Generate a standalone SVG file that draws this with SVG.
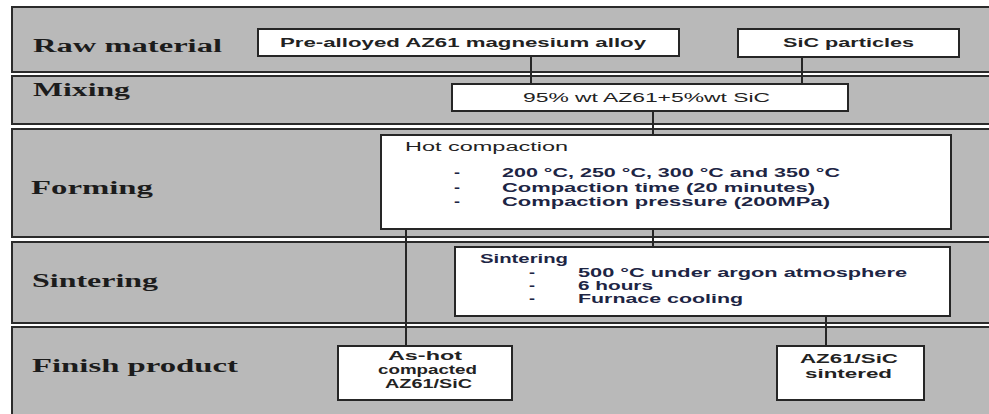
<svg xmlns="http://www.w3.org/2000/svg" width="989" height="414" viewBox="0 0 989 414">
<style>
.band{fill:#b9b9b9;stroke:#2b2b2b;stroke-width:2}
.box{fill:#ffffff;stroke:#262626;stroke-width:2}
.lbl{font-family:"Liberation Serif","Times New Roman",serif;font-weight:bold;font-size:18px;fill:#1c1c1c}
.t{font-family:"Liberation Sans",Arial,sans-serif;font-size:13px;fill:#222;font-weight:bold}
.tn{font-family:"Liberation Sans",Arial,sans-serif;font-size:12px;fill:#222}
.li{font-family:"Liberation Sans",Arial,sans-serif;font-size:12px;fill:#1d2544;font-weight:bold}
.c{stroke:#262626;stroke-width:2;fill:none}
</style>
<rect x="0" y="0" width="989" height="414" fill="#ffffff"/>
<g id="stages">
<g id="stage-raw"><rect class="band" x="12" y="7" width="985" height="65"/><text class="lbl" x="33" y="52" textLength="189" lengthAdjust="spacingAndGlyphs">Raw material</text></g>
<g id="stage-mixing"><rect class="band" x="12" y="76" width="985" height="48"/><text class="lbl" x="33" y="96" textLength="97" lengthAdjust="spacingAndGlyphs">Mixing</text></g>
<g id="stage-forming"><rect class="band" x="12" y="129" width="985" height="108"/><text class="lbl" x="31" y="194" textLength="122" lengthAdjust="spacingAndGlyphs">Forming</text></g>
<g id="stage-sintering"><rect class="band" x="12" y="242" width="985" height="81"/><text class="lbl" x="32" y="287" textLength="126" lengthAdjust="spacingAndGlyphs">Sintering</text></g>
<g id="stage-finish"><rect class="band" x="12" y="327" width="985" height="92"/><text class="lbl" x="32" y="372" textLength="206" lengthAdjust="spacingAndGlyphs">Finish product</text></g>
</g>
<g id="connectors">
<line class="c" x1="531" y1="57" x2="531" y2="84"/>
<line class="c" x1="802" y1="57" x2="802" y2="84"/>
<line class="c" x1="653" y1="111" x2="653" y2="135"/>
<line class="c" x1="653" y1="229" x2="653" y2="247"/>
<line class="c" x1="406" y1="229" x2="406" y2="346"/>
<line class="c" x1="826" y1="316" x2="826" y2="346"/>
</g>
<g id="node-az61">
<rect class="box" x="258" y="29" width="421" height="27"/>
<text class="t" x="280" y="47" font-size="14" textLength="366" lengthAdjust="spacingAndGlyphs">Pre-alloyed AZ61 magnesium alloy</text>
</g>
<g id="node-sic">
<rect class="box" x="738" y="29" width="221" height="28"/>
<text class="t" x="783" y="47" font-size="14" textLength="131" lengthAdjust="spacingAndGlyphs">SiC particles</text>
</g>
<g id="node-mix">
<rect class="box" x="452" y="84" width="396" height="27"/>
<text class="tn" x="523" y="102" font-size="13" textLength="247" lengthAdjust="spacingAndGlyphs">95% wt AZ61+5%wt SiC</text>
</g>
<g id="node-hot">
<rect class="box" x="381" y="135" width="570" height="94"/>
<text class="tn" x="405" y="151" textLength="163" lengthAdjust="spacingAndGlyphs">Hot compaction</text>
<text class="li" x="454" y="177" textLength="6" lengthAdjust="spacingAndGlyphs">-</text>
<text class="li" x="454" y="192" textLength="6" lengthAdjust="spacingAndGlyphs">-</text>
<text class="li" x="454" y="206" textLength="6" lengthAdjust="spacingAndGlyphs">-</text>
<text class="li" x="502" y="177" textLength="338" lengthAdjust="spacingAndGlyphs">200 °C, 250 °C, 300 °C and 350 °C</text>
<text class="li" x="502" y="192" textLength="313" lengthAdjust="spacingAndGlyphs">Compaction time (20 minutes)</text>
<text class="li" x="502" y="206" textLength="328" lengthAdjust="spacingAndGlyphs">Compaction pressure (200MPa)</text>
</g>
<g id="node-sinter">
<rect class="box" x="455" y="247" width="495" height="69"/>
<text class="li" x="480" y="263" fill="#222" textLength="88" lengthAdjust="spacingAndGlyphs">Sintering</text>
<text class="li" x="529" y="277" textLength="6" lengthAdjust="spacingAndGlyphs">-</text>
<text class="li" x="529" y="290" textLength="6" lengthAdjust="spacingAndGlyphs">-</text>
<text class="li" x="529" y="303" textLength="6" lengthAdjust="spacingAndGlyphs">-</text>
<text class="li" x="578" y="277" textLength="329" lengthAdjust="spacingAndGlyphs">500 °C under argon atmosphere</text>
<text class="li" x="578" y="290" textLength="75" lengthAdjust="spacingAndGlyphs">6 hours</text>
<text class="li" x="578" y="303" textLength="165" lengthAdjust="spacingAndGlyphs">Furnace cooling</text>
</g>
<g id="node-ashot">
<rect class="box" x="338" y="346" width="174" height="54"/>
<text class="t" x="388" y="360" font-size="11.5" textLength="74" lengthAdjust="spacingAndGlyphs">As-hot</text>
<text class="t" x="378" y="374" font-size="11.5" textLength="99" lengthAdjust="spacingAndGlyphs">compacted</text>
<text class="t" x="385" y="388" font-size="11.5" textLength="87" lengthAdjust="spacingAndGlyphs">AZ61/SiC</text>
</g>
<g id="node-sintered">
<rect class="box" x="777" y="346" width="147" height="54"/>
<text class="t" x="800" y="363" textLength="98" lengthAdjust="spacingAndGlyphs">AZ61/SiC</text>
<text class="t" x="805" y="378" textLength="87" lengthAdjust="spacingAndGlyphs">sintered</text>
</g>
</svg>
